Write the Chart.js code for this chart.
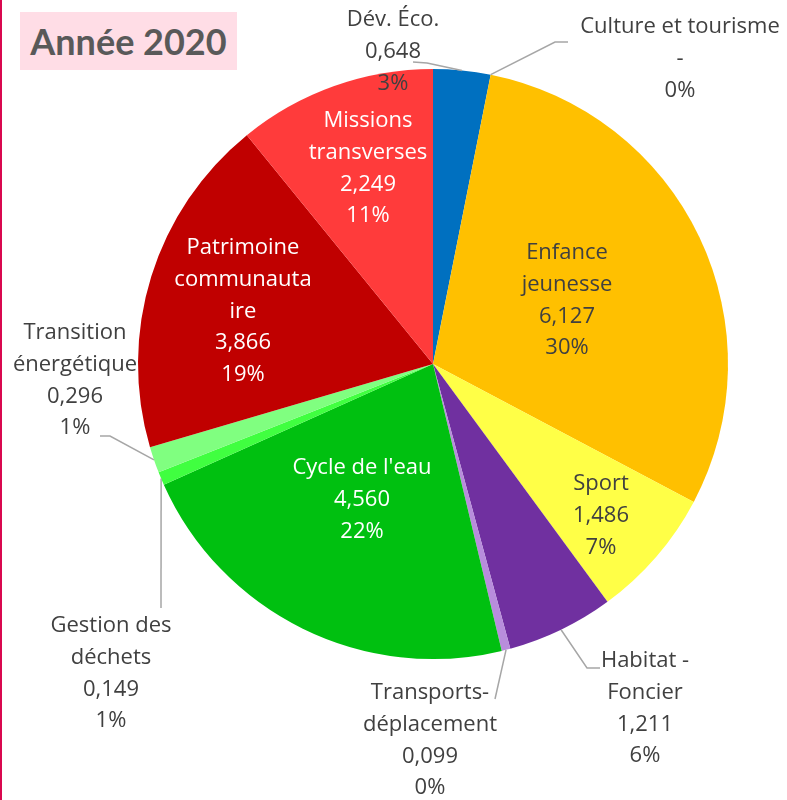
<!DOCTYPE html>
<html>
<head>
<meta charset="utf-8">
<script src="https://cdn.jsdelivr.net/npm/chart.js@4"></script>
<style>
  html, body { margin: 0; padding: 0; background: #fff; }
  #wrap { position: relative; width: 787px; height: 800px; overflow: hidden; }
  #edge { position: absolute; left: 0; top: 0; width: 2px; height: 800px; background: #d9084f; }
  #titre {
    position: absolute; left: 20px; top: 12px; width: 217px; height: 58px;
    background: #ffdde6; color: #595959;
    font: bold 36px Lato, "Open Sans", sans-serif;
    line-height: 58px; text-align: center;
  }
  canvas { position: absolute; left: 0; top: 0; }
</style>
</head>
<body>
<div id="wrap">
  <canvas id="camembert" width="787" height="800"></canvas>
  <div id="edge"></div>
  <div id="titre">Année 2020</div>
</div>
<script>
// budget 2020 par compétence (M€)
const categories = ['Dév. Éco.', 'Culture et tourisme', 'Enfance jeunesse', 'Sport', 'Habitat - Foncier',
  'Transports-déplacement', "Cycle de l'eau", 'Gestion des déchets', 'Transition énergétique',
  'Patrimoine communautaire', 'Missions transverses'];
const montants = [0.648, 0, 6.127, 1.486, 1.211, 0.099, 4.560, 0.149, 0.296, 3.866, 2.249];
const couleurs = ['#0070c0', '#a5a5a5', '#ffc000', '#ffff47', '#7030a0', '#b88ddc', '#00c010',
  '#40ff40', '#80ff80', '#c00000', '#ff3b3b'];

const total = montants.reduce((a, b) => a + b, 0);
const fmt = v => v === 0 ? '-' : v.toFixed(3).replace('.', ',');
const pct = v => Math.round(v / total * 100) + '%';

// placement des étiquettes : lignes du nom, centre du bloc, couleur, coudes du trait de rappel
const etiquettes = [
  { lignes: ['Dév. Éco.'], x: 393, y: 20, c: '#404040', coudes: [[427, 63], [413, 62]] },
  { lignes: ['Culture et tourisme'], x: 680, y: 27, c: '#404040', coudes: [[555, 42], [568, 42]], bord: 'fin' },
  { lignes: ['Enfance', 'jeunesse'], x: 567, y: 253, c: '#404040' },
  { lignes: ['Sport'], x: 601, y: 484, c: '#404040' },
  { lignes: ['Habitat -', 'Foncier'], x: 645, y: 661, c: '#404040', coudes: [[587, 668], [600, 668]] },
  { lignes: ['Transports-', 'déplacement'], x: 430, y: 693, c: '#404040', coudes: [[495, 699]] },
  { lignes: ["Cycle de l'eau"], x: 362, y: 468, c: '#ffffff' },
  { lignes: ['Gestion des', 'déchets'], x: 111, y: 626, c: '#404040', coudes: [[161, 608]] },
  { lignes: ['Transition', 'énergétique'], x: 75, y: 333, c: '#404040', coudes: [[110, 436], [100, 436]] },
  { lignes: ['Patrimoine', 'communauta', 'ire'], x: 243, y: 248, c: '#ffffff' },
  { lignes: ['Missions', 'transverses'], x: 368, y: 121, c: '#ffffff' }
];

const pluginEtiquettes = {
  id: 'etiquettes',
  afterDatasetsDraw(chart) {
    const ctx = chart.ctx;
    const arcs = chart.getDatasetMeta(0).data;
    ctx.save();
    etiquettes.forEach((e, i) => {
      const arc = arcs[i];
      if (e.coudes) {
        // départ du trait au bord de la part
        const ang = e.bord === 'fin' ? arc.endAngle : (arc.startAngle + arc.endAngle) / 2;
        const x0 = arc.x + Math.cos(ang) * arc.outerRadius;
        const y0 = arc.y + Math.sin(ang) * arc.outerRadius;
        ctx.strokeStyle = '#a6a6a6';
        ctx.lineWidth = 1.5;
        ctx.beginPath();
        ctx.moveTo(x0, y0);
        e.coudes.forEach(p => ctx.lineTo(p[0], p[1]));
        ctx.stroke();
      }
      const texte = e.lignes.concat([fmt(montants[i]), pct(montants[i])]);
      ctx.fillStyle = e.c;
      ctx.font = '22px "Open Sans", Lato, sans-serif';
      ctx.textAlign = 'center';
      ctx.textBaseline = 'middle';
      texte.forEach((t, k) => ctx.fillText(t, e.x, e.y + k * 31.7));
    });
    ctx.restore();
  }
};

new Chart(document.getElementById('camembert'), {
  type: 'pie',
  data: {
    labels: categories,
    datasets: [{
      data: montants,
      backgroundColor: couleurs,
      borderWidth: 0
    }]
  },
  options: {
    responsive: false,
    animation: false,
    layout: { padding: { left: 138, right: 59, top: 69, bottom: 141 } },
    plugins: {
      legend: { display: false },
      tooltip: { enabled: false }
    }
  },
  plugins: [pluginEtiquettes]
});
</script>
</body>
</html>
